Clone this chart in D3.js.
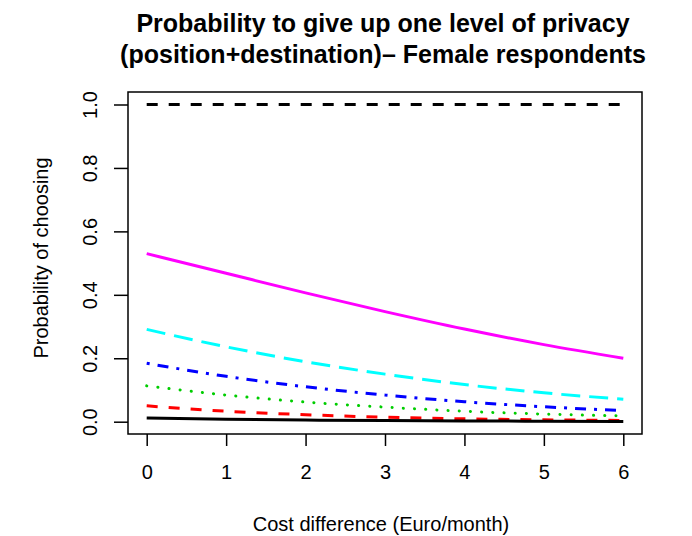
<!DOCTYPE html>
<head>
  <meta charset="utf-8">
  <script src="https://d3js.org/d3.v7.min.js"></script>
  <style>
    body { margin: 0; background: #fff; }
    text { font-family: "Liberation Sans", Arial, sans-serif; fill: #000; }
    .tick line { stroke: #000; stroke-width: 1.5; }
    .tick text { font-size: 20px; }
  </style>
</head>
<body>
  <div id="graph"></div>
  <script>
    // values
    var cost = [0, 1, 2, 3, 4, 5, 6];
    var xTicks = [0, 1, 2, 3, 4, 5, 6];
    var yTicks = [0, 0.2, 0.4, 0.6, 0.8, 1.0];

    var baseline = [1, 1, 1, 1, 1, 1, 1];
    var magenta = [0.530, 0.468, 0.406, 0.347, 0.292, 0.243, 0.200];
    var cyan = [0.291, 0.236, 0.189, 0.150, 0.117, 0.091, 0.071];
    var blue = [0.184, 0.143, 0.110, 0.084, 0.063, 0.047, 0.035];
    var green = [0.113, 0.084, 0.062, 0.046, 0.033, 0.024, 0.018];
    var red = [0.050, 0.033, 0.022, 0.014, 0.009, 0.006, 0.004];
    var black = [0.012, 0.008, 0.005, 0.0035, 0.0023, 0.0015, 0.001];

    var series = [
      { y: baseline, color: "#000", dash: "11 11", cap: "butt" },
      { y: magenta, color: "#ff00ff", dash: null, cap: "butt" },
      { y: cyan, color: "#00ffff", dash: "19 9", cap: "butt" },
      { y: blue, color: "#0000ff", dash: "3 8 11 8", cap: "butt" },
      { y: green, color: "#00cd00", dash: "0.1 11.1", cap: "round" },
      { y: red, color: "#ff0000", dash: "11 11", cap: "butt" },
      { y: black, color: "#000", dash: null, cap: "butt" }
    ];

    var width = 692, height = 536;
    var svg = d3.select("#graph").append("svg")
      .attr("width", width)
      .attr("height", height);

    var box = { left: 128, right: 642, top: 92, bottom: 434 };

    var x = d3.scaleLinear().domain([0, 6]).range([146.7, 623.3]);
    var y = d3.scaleLinear().domain([0, 1]).range([421.7, 104.5]);

    var line = d3.line()
      .x((d, i) => x(cost[i]))
      .y(d => y(d))
      .curve(d3.curveMonotoneX);

    var gLines = svg.append("g").attr("id", "lines");
    for (s of series) {
      gLines.append("path")
        .datum(s.y)
        .attr("d", line)
        .attr("fill", "none")
        .attr("stroke", s.color)
        .attr("stroke-width", 3)
        .attr("stroke-linecap", s.cap)
        .attr("stroke-dasharray", s.dash);
    }

    // plot box
    svg.append("rect")
      .attr("x", box.left)
      .attr("y", box.top)
      .attr("width", box.right - box.left)
      .attr("height", box.bottom - box.top)
      .attr("fill", "none")
      .attr("stroke", "#000")
      .attr("stroke-width", 1.5);

    var xAxis = d3.axisBottom(x).tickValues(xTicks).tickSize(12)
      .tickFormat(d3.format("d"));
    var gx = svg.append("g")
      .attr("transform", "translate(0," + box.bottom + ")")
      .call(xAxis)
      .call(g => g.select(".domain").remove());
    gx.selectAll(".tick text").attr("y", 45).attr("dy", null);

    var yAxis = d3.axisLeft(y).tickValues(yTicks).tickSize(14).tickFormat(d3.format(".1f"));
    var gy = svg.append("g")
      .attr("transform", "translate(" + box.left + ",0)")
      .call(yAxis)
      .call(g => g.select(".domain").remove());
    gy.selectAll(".tick text")
      .attr("x", null).attr("dy", null)
      .attr("text-anchor", "middle")
      .attr("transform", "translate(-31,0) rotate(-90)")
      .attr("y", 0);

    // titles
    svg.append("text")
      .attr("x", 383).attr("y", 32)
      .attr("text-anchor", "middle")
      .style("font-size", "25px").style("font-weight", "bold")
      .text("Probability to give up one level of privacy");
    svg.append("text")
      .attr("x", 383).attr("y", 63)
      .attr("text-anchor", "middle")
      .style("font-size", "25px").style("font-weight", "bold")
      .text("(position+destination)\u2013 Female respondents");

    svg.append("text")
      .attr("x", 381).attr("y", 531)
      .attr("text-anchor", "middle")
      .style("font-size", "20px")
      .text("Cost difference (Euro/month)");

    svg.append("text")
      .attr("transform", "translate(48,258) rotate(-90)")
      .attr("text-anchor", "middle")
      .style("font-size", "20px")
      .text("Probability of choosing");
  </script>
</body>
